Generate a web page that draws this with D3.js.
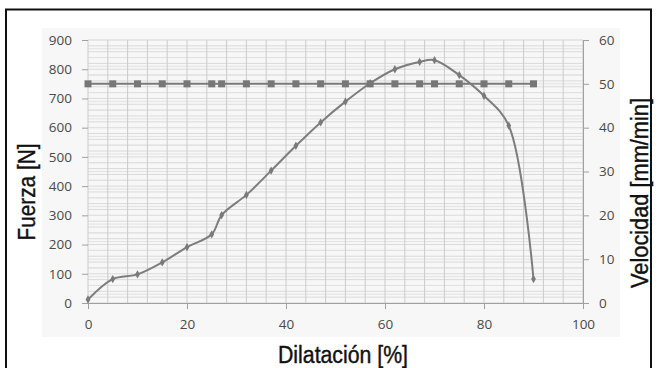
<!DOCTYPE html>
<html><head><meta charset="utf-8">
<script src="https://cdn.jsdelivr.net/npm/d3@7"></script>
<style>
html,body{margin:0;padding:0;background:#fff;}
svg{display:block;}
</style></head>
<body>
<svg id="chart" width="658" height="368"></svg>
<script>
// Data
const dilatacion = [0, 5, 10, 15, 20, 25, 27, 32, 37, 42, 47, 52, 57, 62, 67, 70, 75, 80, 85, 90];
const fuerza     = [12, 82, 98, 139, 191, 235, 301, 370, 453, 538, 618, 689, 752, 800, 825, 831, 780, 709, 607, 82];
const velocidad  = [50, 50, 50, 50, 50, 50, 50, 50, 50, 50, 50, 50, 50, 50, 50, 50, 50, 50, 50, 50];
const xTicks = [0, 20, 40, 60, 80, 100];
const yLeftTicks = [0, 100, 200, 300, 400, 500, 600, 700, 800, 900];
const yRightTicks = [0, 10, 20, 30, 40, 50, 60];
const xTitle = "Dilatación [%]";
const yLeftTitle = "Fuerza [N]";
const yRightTitle = "Velocidad [mm/min]";

const svg = d3.select("#chart");
const L = 88, R = 583, T = 40, B = 303;

const x = d3.scaleLinear().domain([0, 100]).range([L, R]);
const yL = d3.scaleLinear().domain([0, 900]).range([B, T]);
const yR = d3.scaleLinear().domain([0, 60]).range([B, T]);

// outer frame and light background patch
svg.append("rect").attr("x", 6).attr("y", 9.5).attr("width", 645).attr("height", 370)
  .attr("fill", "#fff").attr("stroke", "#111").attr("stroke-width", 2);
svg.append("rect").attr("x", 42).attr("y", 28).attr("width", 578).attr("height", 309)
  .attr("fill", "#f7f7f7");

const grid = svg.append("g");
// horizontal minor gridlines (primary every 20 N, secondary every 2 mm/min)
d3.range(0, 901, 20).forEach(v => {
  grid.append("line").attr("x1", L).attr("x2", R).attr("y1", yL(v)).attr("y2", yL(v))
    .attr("stroke", "#dadada").attr("stroke-width", 1);
});
d3.range(0, 61, 2).forEach(v => {
  grid.append("line").attr("x1", L).attr("x2", R).attr("y1", yR(v)).attr("y2", yR(v))
    .attr("stroke", "#e2e2e2").attr("stroke-width", 1);
});
// vertical gridlines every 4 %
d3.range(0, 101, 4).forEach(v => {
  grid.append("line").attr("x1", x(v)).attr("x2", x(v)).attr("y1", T).attr("y2", B)
    .attr("stroke", "#cbcbcb").attr("stroke-width", 1);
});

// axes
const tickFont = "'Open Sans', 'DejaVu Sans', sans-serif";
const axB = svg.append("g").attr("transform", `translate(0,${B})`)
  .call(d3.axisBottom(x).tickValues(xTicks).tickSize(6).tickPadding(10));
const axL = svg.append("g").attr("transform", `translate(${L},0)`)
  .call(d3.axisLeft(yL).tickValues(yLeftTicks).tickSize(6).tickPadding(10));
const axR = svg.append("g").attr("transform", `translate(${R},0)`)
  .call(d3.axisRight(yR).tickValues(yRightTicks).tickSize(6).tickPadding(10));
[axB, axL, axR].forEach(a => {
  a.select(".domain").attr("stroke", "#a0a0a0");
  a.selectAll(".tick line").attr("stroke", "#a0a0a0");
  a.selectAll(".tick text").attr("fill", "#4a4a4a").style("font-family", tickFont).style("font-size", "13.5px");
});
axL.select(".domain").remove();

// lines
const lineF = d3.line().x((d, i) => x(dilatacion[i])).y(d => yL(d)).curve(d3.curveCatmullRom.alpha(0.5));
const lineV = d3.line().x((d, i) => x(dilatacion[i])).y(d => yR(d));

svg.append("path").datum(fuerza).attr("d", lineF)
  .attr("fill", "none").attr("stroke", "#7d7d7d").attr("stroke-width", 2);
svg.append("g").selectAll("path").data(fuerza).join("path")
  .attr("d", d3.symbol(d3.symbolDiamond, 20)())
  .attr("transform", (d, i) => `translate(${x(dilatacion[i])},${yL(d)})`)
  .attr("fill", "#7a7a7a");

svg.append("path").datum(velocidad).attr("d", lineV)
  .attr("fill", "none").attr("stroke", "#7a7a7a").attr("stroke-width", 2);
svg.append("g").selectAll("rect").data(velocidad).join("rect")
  .attr("x", (d, i) => x(dilatacion[i]) - 3.5).attr("y", d => yR(d) - 3.5)
  .attr("width", 7).attr("height", 7).attr("fill", "#777");

// titles (condensed look via textLength)
const titleFont = "'Liberation Sans', Arial, sans-serif";
function title(t, transform, len) {
  svg.append("text").attr("transform", transform).attr("text-anchor", "middle")
    .attr("textLength", len).attr("lengthAdjust", "spacingAndGlyphs")
    .style("font-family", titleFont).style("font-size", "23px").attr("fill", "#111")
    .attr("stroke", "#111").attr("stroke-width", 0.4)
    .text(t);
}
title(xTitle, "translate(343,363)", 130);
title(yLeftTitle, "translate(35,192) rotate(-90)", 97);
title(yRightTitle, "translate(648,193) rotate(-90)", 190);
</script>
</body></html>
